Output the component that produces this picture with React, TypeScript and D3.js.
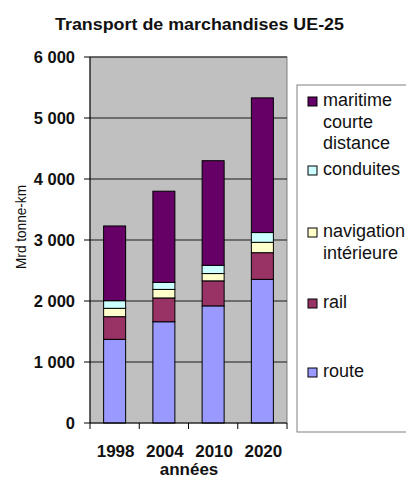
import React from "react";
import * as d3 from "d3";

// Freight transport in the EU-25, billion tonne-km, by mode
const years = ["1998", "2004", "2010", "2020"];
const route = [1372, 1660, 1920, 2355];
const rail = [371, 390, 410, 437];
const navigation = [137, 140, 120, 170];
const conduites = [125, 115, 135, 160];
const maritime = [1225, 1495, 1715, 2208];

const yTicks = [0, 1000, 2000, 3000, 4000, 5000, 6000];

const seriesKeys = ["route", "rail", "navigation", "conduites", "maritime"];
const seriesColors: Record<string, string> = {
  route: "#9999FF",
  rail: "#993366",
  navigation: "#FFFFCC",
  conduites: "#CCFFFF",
  maritime: "#660066",
};

// Legend entries, top to bottom, with their wrapped text lines
const legendItems = [
  { key: "maritime", lines: ["maritime", "courte", "distance"] },
  { key: "conduites", lines: ["conduites"] },
  { key: "navigation", lines: ["navigation", "intérieure"] },
  { key: "rail", lines: ["rail"] },
  { key: "route", lines: ["route"] },
];
const legendBaselines = [106, 175, 237, 308, 377];

const W = 406;
const H = 479;
const plot = { left: 90, right: 287, top: 57, bottom: 423 };
const font = "'Liberation Sans', Arial, Helvetica, sans-serif";

const fmt = (v: number) => d3.format(",")(v).replace(/,/g, " ");

export default function App() {
  const rows = years.map((y, i) => ({
    year: y,
    route: route[i],
    rail: rail[i],
    navigation: navigation[i],
    conduites: conduites[i],
    maritime: maritime[i],
  }));
  const stacked = d3.stack<any>().keys(seriesKeys)(rows);

  const x = d3
    .scaleBand<string>()
    .domain(years)
    .range([plot.left, plot.right])
    .paddingInner(0.553)
    .paddingOuter(0.553 / 2);
  const y = d3.scaleLinear().domain([0, 6000]).range([plot.bottom, plot.top]);
  const step = x.step();

  return (
    <svg
      width={W}
      height={H}
      style={{ position: "absolute", left: 0, top: 0, background: "#fff" }}
      fontFamily={font}
    >
      {/* title */}
      <text x={55} y={30} fontSize={17} fontWeight="bold" fill="#111" textLength={289} lengthAdjust="spacingAndGlyphs">
        Transport de marchandises UE-25
      </text>

      {/* plot area */}
      <rect
        x={plot.left}
        y={plot.top}
        width={plot.right - plot.left}
        height={plot.bottom - plot.top}
        fill="#C0C0C0"
        stroke="#808080"
      />

      {/* gridlines */}
      {yTicks.slice(1).map((t) => (
        <line key={t} x1={plot.left} x2={plot.right} y1={y(t)} y2={y(t)} stroke="#1a1a1a" strokeWidth={1} />
      ))}

      {/* stacked bars */}
      {stacked.map((layer) => (
        <g key={layer.key} fill={seriesColors[layer.key]}>
          {layer.map((d, i) => (
            <rect
              key={i}
              x={x(years[i])!}
              y={y(d[1])}
              width={x.bandwidth()}
              height={y(d[0]) - y(d[1])}
              stroke="#000"
              strokeWidth={1}
            />
          ))}
        </g>
      ))}

      {/* y axis */}
      <line x1={plot.left} x2={plot.left} y1={plot.top} y2={plot.bottom} stroke="#000" />
      {yTicks.map((t) => (
        <g key={t}>
          <line x1={plot.left - 6} x2={plot.left} y1={y(t)} y2={y(t)} stroke="#000" />
          <text x={75} y={y(t) + 6} textAnchor="end" fontSize={16.5} fontWeight="bold" fill="#111">
            {fmt(t)}
          </text>
        </g>
      ))}
      <text
        transform={`translate(26,227) rotate(-90)`}
        textAnchor="middle"
        fontSize={15.5}
        fill="#111"
        textLength={84}
        lengthAdjust="spacingAndGlyphs"
      >
        Mrd tonne-km
      </text>

      {/* x axis */}
      <line x1={plot.left} x2={plot.right} y1={plot.bottom} y2={plot.bottom} stroke="#000" />
      {d3.range(years.length + 1).map((i) => (
        <line
          key={i}
          x1={plot.left + i * step}
          x2={plot.left + i * step}
          y1={plot.bottom}
          y2={plot.bottom + 6}
          stroke="#000"
        />
      ))}
      {years.map((yr) => (
        <text
          key={yr}
          x={x(yr)! + x.bandwidth() / 2 + 1}
          y={456.5}
          textAnchor="middle"
          fontSize={17}
          fontWeight="bold"
          fill="#111"
        >
          {yr}
        </text>
      ))}
      <text x={189} y={475} textAnchor="middle" fontSize={17} fontWeight="bold" fill="#111">
        années
      </text>

      {/* legend */}
      <rect x={297} y={85} width={130} height={347} fill="#fff" stroke="#808080" />
      {legendItems.map((item, i) => {
        const b = legendBaselines[i];
        return (
          <g key={item.key}>
            <rect x={308} y={b - 9} width={9} height={9} fill={seriesColors[item.key]} stroke="#000" />
            {item.lines.map((ln, j) => (
              <text key={j} x={323} y={b + j * 21.5} fontSize={18} fill="#111">
                {ln}
              </text>
            ))}
          </g>
        );
      })}
    </svg>
  );
}
